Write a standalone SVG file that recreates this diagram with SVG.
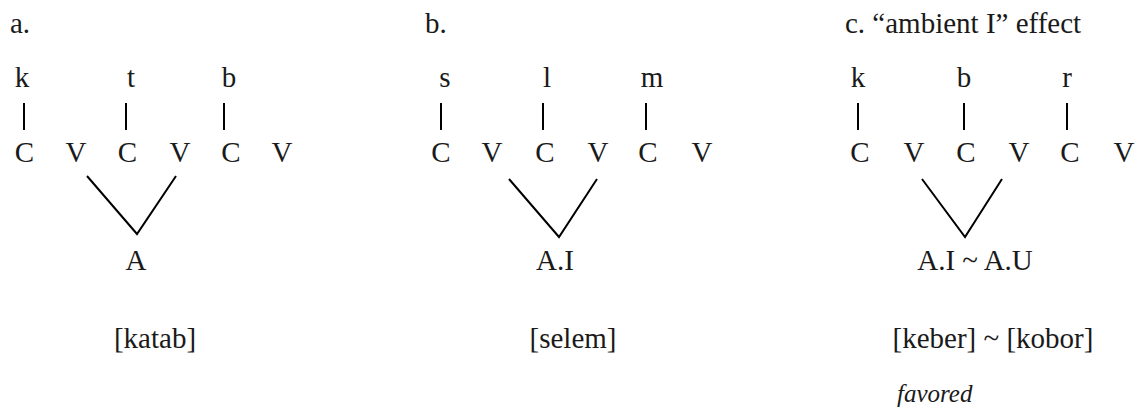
<svg xmlns="http://www.w3.org/2000/svg" width="1139" height="409" viewBox="0 0 1139 409">
<style>
text{font-family:'Liberation Serif','Times New Roman','DejaVu Serif',serif;font-size:29px;fill:#1a1a1a}
.m{text-anchor:middle}
.it{font-style:italic;font-size:25px}
.bar{stroke:#000;stroke-width:2;fill:none}
.ln{stroke:#000;stroke-width:2;fill:none}
</style>
<rect width="1139" height="409" fill="#fff"/>
<g id="panel-a" font-family="Liberation Serif, serif">
<text id="a-title" x="10" y="33">a.</text>
<g id="a-k"><text class="m" x="22" y="87">k</text></g>
<g id="a-t"><text class="m" x="131" y="87">t</text></g>
<g id="a-b"><text class="m" x="229" y="87">b</text></g>
<g id="a-C1"><text class="m" x="24.5" y="162">C</text></g>
<g id="a-V1"><text class="m" x="76" y="162">V</text></g>
<g id="a-C2"><text class="m" x="127.5" y="162">C</text></g>
<g id="a-V2"><text class="m" x="180" y="162">V</text></g>
<g id="a-C3"><text class="m" x="231" y="162">C</text></g>
<g id="a-V3"><text class="m" x="282" y="162">V</text></g>
<g id="a-A"><text class="m" x="136" y="270">A</text></g>
<g id="a-out"><text class="m" x="155" y="348">[katab]</text></g>
</g>
<g id="panel-b">
<text id="b-title" x="425" y="33">b.</text>
<g id="b-s"><text class="m" x="445" y="87">s</text></g>
<g id="b-l"><text class="m" x="547" y="87">l</text></g>
<g id="b-m"><text class="m" x="652" y="87">m</text></g>
<g id="b-C1"><text class="m" x="441" y="162">C</text></g>
<g id="b-V1"><text class="m" x="492" y="162">V</text></g>
<g id="b-C2"><text class="m" x="545" y="162">C</text></g>
<g id="b-V2"><text class="m" x="598" y="162">V</text></g>
<g id="b-C3"><text class="m" x="648" y="162">C</text></g>
<g id="b-V3"><text class="m" x="702" y="162">V</text></g>
<g id="b-AI"><text class="m" x="555" y="270">A.I</text></g>
<g id="b-out"><text class="m" x="573" y="348">[selem]</text></g>
</g>
<g id="panel-c">
<text id="c-title" x="845" y="33">c. “ambient I” effect</text>
<g id="c-k"><text class="m" x="858" y="87">k</text></g>
<g id="c-b"><text class="m" x="964" y="87">b</text></g>
<g id="c-r"><text class="m" x="1067" y="87">r</text></g>
<g id="c-C1"><text class="m" x="860" y="162">C</text></g>
<g id="c-V1"><text class="m" x="914" y="162">V</text></g>
<g id="c-C2"><text class="m" x="966" y="162">C</text></g>
<g id="c-V2"><text class="m" x="1019" y="162">V</text></g>
<g id="c-C3"><text class="m" x="1070" y="162">C</text></g>
<g id="c-V3"><text class="m" x="1124" y="162">V</text></g>
<g id="c-AI"><text class="m" x="975" y="270">A.I ~ A.U</text></g>
<g id="c-out"><text class="m" x="993" y="348">[keber] ~ [kobor]</text></g>
<g id="c-fav"><text class="it" x="897" y="402">favored</text></g>
</g>
<g id="connectors">
<line class="bar" x1="24" y1="103" x2="24" y2="130"/>
<line class="bar" x1="126" y1="103" x2="126" y2="130"/>
<line class="bar" x1="224" y1="103" x2="224" y2="130"/>
<polyline class="ln" points="87,176 137,234 176,176"/>
<line class="bar" x1="441" y1="103" x2="441" y2="130"/>
<line class="bar" x1="543" y1="103" x2="543" y2="130"/>
<line class="bar" x1="646" y1="103" x2="646" y2="130"/>
<polyline class="ln" points="509,179 559,237 597,179"/>
<line class="bar" x1="858" y1="103" x2="858" y2="130"/>
<line class="bar" x1="964" y1="103" x2="964" y2="130"/>
<line class="bar" x1="1067" y1="103" x2="1067" y2="130"/>
<polyline class="ln" points="922,179 965,237 1002,179"/>
</g>
</svg>
